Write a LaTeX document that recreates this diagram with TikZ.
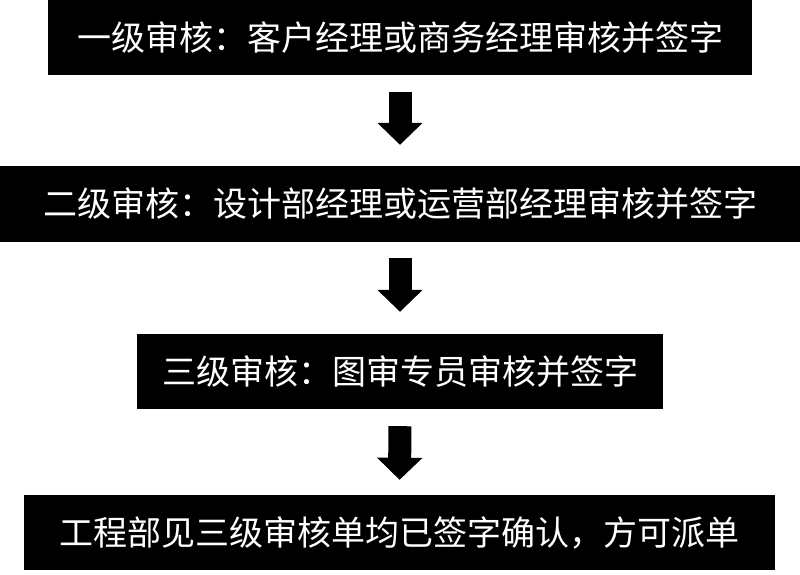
\documentclass[tikz,border=0pt]{standalone}
\usepackage{fontspec}
\newfontfamily\cjk{Noto Sans CJK SC}
\usetikzlibrary{arrows.meta}
\tikzset{
  stagebox/.style={rectangle, fill=black, text=white, inner sep=0pt,
    minimum height=75pt, font=\cjk\fontsize{34}{40}\selectfont},
  flowarrow/.style={draw=black, line width=23pt,
    -{Triangle[width=44pt,length=22pt]}},
}
\begin{document}
\begin{tikzpicture}[x=1pt,y=-1pt]
\useasboundingbox (0,0) rectangle (800,574);
\node[stagebox, minimum width=704pt] (b1) at (400,37.5) {一级审核：客户经理或商务经理审核并签字};
\node[stagebox, minimum width=800pt, minimum height=76pt] (b2) at (400,204) {二级审核：设计部经理或运营部经理审核并签字};
\node[stagebox, minimum width=526pt] (b3) at (400,371.5) {三级审核：图审专员审核并签字};
\node[stagebox, minimum width=751pt] (b4) at (399.5,532.5) {工程部见三级审核单均已签字确认，方可派单};
\draw[flowarrow, shorten <=17pt, shorten >=21pt] (b1.south) -- (b2.north);
\draw[flowarrow, shorten <=16pt, shorten >=22pt] (b2.south) -- (b3.north);
\draw[flowarrow, shorten <=17pt, shorten >=15pt] (b3.south) -- (b4.north);
\end{tikzpicture}
\end{document}
